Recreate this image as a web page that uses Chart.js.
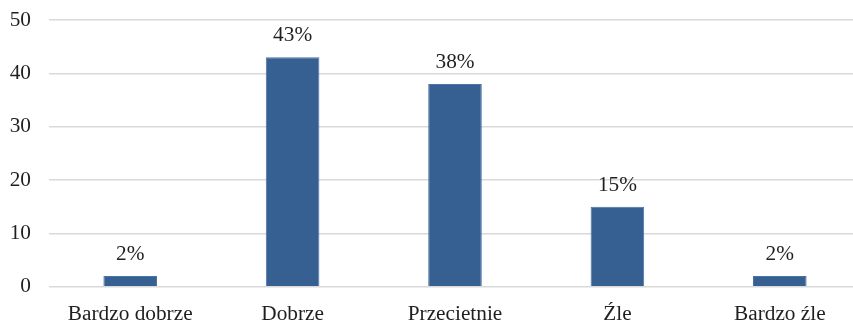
<!DOCTYPE html>
<html>
<head>
<meta charset="utf-8">
<script src="https://cdn.jsdelivr.net/npm/chart.js@4/dist/chart.umd.min.js"></script>
<style>
  html, body { margin: 0; padding: 0; background: #fff; overflow: hidden; }
  #wrap { position: absolute; left: 0; top: 0; width: 862px; height: 320px; }
</style>
</head>
<body>
<div id="wrap"><canvas id="c"></canvas></div>
<script>
const categories = ['Bardzo dobrze', 'Dobrze', 'Przecietnie', 'Źle', 'Bardzo źle'];
const values = [2, 43, 38, 15, 2];
const valueLabels = ['2%', '43%', '38%', '15%', '2%'];
const yTicks = [0, 10, 20, 30, 40, 50];

const FONT = '"Liberation Serif", "Times New Roman", serif';
const FONT_SIZE = 21.3;
const TEXT = '#1f1f1f';

// Percent labels above each bar
const barLabels = {
  id: 'barLabels',
  afterDatasetsDraw(chart) {
    const ctx = chart.ctx;
    const meta = chart.getDatasetMeta(0);
    ctx.save();
    ctx.font = FONT_SIZE + 'px ' + FONT;
    ctx.fillStyle = TEXT;
    ctx.textAlign = 'center';
    ctx.textBaseline = 'alphabetic';
    meta.data.forEach((bar, i) => {
      ctx.fillText(valueLabels[i], bar.x, bar.y - 16);
    });
    ctx.restore();
  }
};

new Chart(document.getElementById('c'), {
  type: 'bar',
  data: {
    labels: categories,
    datasets: [{
      data: values,
      backgroundColor: '#376092',
      borderColor: '#4a72a3',
      borderWidth: 1,
      categoryPercentage: 1,
      barPercentage: 0.33
    }]
  },
  options: {
    responsive: true,
    maintainAspectRatio: false,
    animation: false,
    layout: { padding: { top: 20, left: 0, right: 1, bottom: 0 } },
    plugins: { legend: { display: false }, tooltip: { enabled: false } },
    scales: {
      x: {
        grid: { display: false, drawTicks: false },
        border: { display: false },
        ticks: {
          color: TEXT,
          font: { family: FONT, size: FONT_SIZE },
          padding: 15,
          maxRotation: 0,
          autoSkip: false
        },
        afterFit(scale) {
          scale.height = 33.3;
          scale.paddingLeft = 0;
          scale.paddingRight = 0;
        }
      },
      y: {
        min: 0,
        max: 50,
        afterBuildTicks(scale) { scale.ticks = yTicks.map(v => ({ value: v })); },
        grid: { color: '#d9d9d9', lineWidth: 1.4, drawTicks: false },
        border: { display: false },
        ticks: {
          color: TEXT,
          font: { family: FONT, size: FONT_SIZE },
          padding: 18
        },
        afterFit(scale) {
          scale.width = 49;
          scale.paddingTop = 0;
          scale.paddingBottom = 0;
        }
      }
    }
  },
  plugins: [barLabels]
});
</script>
</body>
</html>
